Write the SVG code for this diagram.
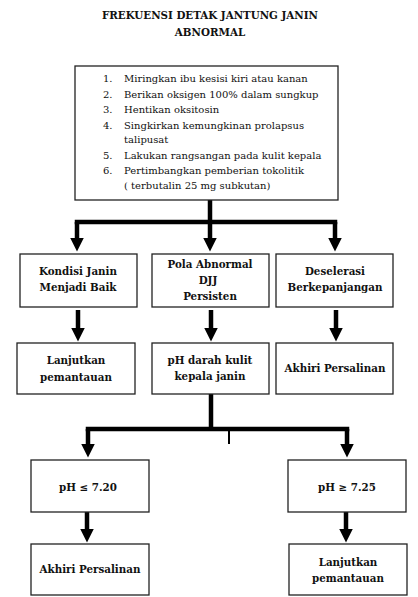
<svg xmlns="http://www.w3.org/2000/svg" width="418" height="597" viewBox="0 0 418 597">
<style>
.bg{fill:#fff}
.box{fill:#fff;stroke:#222;stroke-width:1.3}
.t{font-family:"DejaVu Serif","Liberation Serif",serif;font-size:10.3px;font-weight:bold;fill:#111;text-anchor:middle}
.l{font-family:"DejaVu Serif","Liberation Serif",serif;font-size:10px;fill:#111}
.c{fill:none;stroke:#000;stroke-width:4.5}
.tick{fill:none;stroke:#000;stroke-width:2}
</style>
<defs>
<marker id="ah" viewBox="0 0 14 14" markerWidth="14" markerHeight="14" refX="0.5" refY="7" orient="auto" markerUnits="userSpaceOnUse">
<path d="M0,0 L14,7 L0,14 Z" fill="#000"/>
</marker>
</defs>
<rect class="bg" width="418" height="597"/>
<g id="title">
<text class="t" x="210" y="19">FREKUENSI DETAK JANTUNG JANIN</text>
<text class="t" x="210" y="36">ABNORMAL</text>
</g>
<g id="connectors">
<path class="c" d="M210,200 V222"/>
<path class="c" d="M77,222 H335" stroke-linecap="square"/>
<path class="c" d="M77,222 V238" marker-end="url(#ah)"/>
<path class="c" d="M210,222 V238" marker-end="url(#ah)"/>
<path class="c" d="M335,222 V238" marker-end="url(#ah)"/>
<path class="c" d="M78,310 V328" marker-end="url(#ah)"/>
<path class="c" d="M211,310 V328" marker-end="url(#ah)"/>
<path class="c" d="M336,310 V328" marker-end="url(#ah)"/>
<path class="c" d="M211,394 V429"/>
<path class="c" d="M88,429 H347" stroke-linecap="square"/>
<path class="tick" d="M229,429 V444"/>
<path class="c" d="M88,429 V444" marker-end="url(#ah)"/>
<path class="c" d="M347,429 V444" marker-end="url(#ah)"/>
<path class="c" d="M87,512 V529" marker-end="url(#ah)"/>
<path class="c" d="M346,512 V529" marker-end="url(#ah)"/>
</g>
<g id="steps">
<rect class="box" x="75" y="66" width="263" height="134"/>
<text class="l" x="103" y="82">1.</text><text class="l" x="124" y="82">Miringkan ibu kesisi kiri atau kanan</text>
<text class="l" x="103" y="98">2.</text><text class="l" x="124" y="98">Berikan oksigen 100% dalam sungkup</text>
<text class="l" x="103" y="113">3.</text><text class="l" x="124" y="113">Hentikan oksitosin</text>
<text class="l" x="103" y="129">4.</text><text class="l" x="124" y="129">Singkirkan kemungkinan prolapsus</text>
<text class="l" x="124" y="143">talipusat</text>
<text class="l" x="103" y="159">5.</text><text class="l" x="124" y="159">Lakukan rangsangan pada kulit kepala</text>
<text class="l" x="103" y="174">6.</text><text class="l" x="124" y="174">Pertimbangkan pemberian tokolitik</text>
<text class="l" x="124" y="189">( terbutalin 25 mg subkutan)</text>
</g>
<g id="kondisi">
<rect class="box" x="20" y="254" width="117" height="53"/>
<text class="t" x="78" y="275">Kondisi Janin</text>
<text class="t" x="78" y="291">Menjadi Baik</text>
</g>
<g id="pola">
<rect class="box" x="152" y="254" width="117" height="53"/>
<text class="t" x="210" y="268">Pola Abnormal</text>
<text class="t" x="208" y="284">DJJ</text>
<text class="t" x="210" y="300">Persisten</text>
</g>
<g id="deselerasi">
<rect class="box" x="276" y="254" width="117" height="53"/>
<text class="t" x="335" y="275">Deselerasi</text>
<text class="t" x="335" y="291">Berkepanjangan</text>
</g>
<g id="lanjutkan1">
<rect class="box" x="17" y="343" width="118" height="51"/>
<text class="t" x="76" y="364">Lanjutkan</text>
<text class="t" x="76" y="381">pemantauan</text>
</g>
<g id="phdarah">
<rect class="box" x="152" y="343" width="117" height="51"/>
<text class="t" x="210" y="364">pH darah kulit</text>
<text class="t" x="210" y="380">kepala janin</text>
</g>
<g id="akhiri1">
<rect class="box" x="276" y="343" width="117" height="51"/>
<text class="t" x="335" y="372">Akhiri Persalinan</text>
</g>
<g id="ph720">
<rect class="box" x="31" y="460" width="118" height="52"/>
<text class="t" x="88" y="491">pH ≤ 7.20</text>
</g>
<g id="ph725">
<rect class="box" x="288" y="460" width="118" height="52"/>
<text class="t" x="347" y="491">pH ≥ 7.25</text>
</g>
<g id="akhiri2">
<rect class="box" x="31" y="544" width="118" height="51"/>
<text class="t" x="90" y="573">Akhiri Persalinan</text>
</g>
<g id="lanjutkan2">
<rect class="box" x="289" y="544" width="118" height="51"/>
<text class="t" x="348" y="566">Lanjutkan</text>
<text class="t" x="348" y="582">pemantauan</text>
</g>
</svg>
